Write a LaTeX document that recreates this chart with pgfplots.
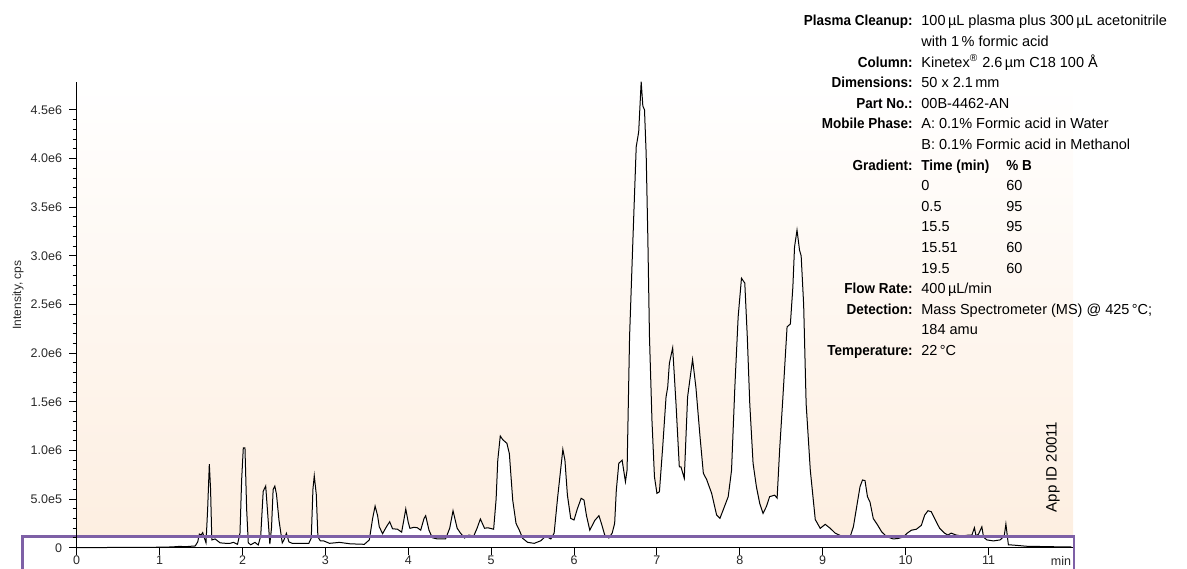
\documentclass[border=0pt]{standalone}
\usepackage{pgfplots}
\pgfplotsset{compat=1.18}
\usepackage{pgfplotstable}
\usepackage{fontspec}
\setmainfont{Liberation Sans}
\newfontfamily\labfont{Liberation Sans}[FakeStretch=0.93]
\definecolor{peach}{RGB}{253,238,224}
\definecolor{boxpurple}{RGB}{126,96,166}
\definecolor{ticktext}{RGB}{40,40,40}

\pgfplotstableread{
t I
0.00 0.002
0.30 0.002
0.60 0.003
0.90 0.004
1.05 0.006
1.15 0.008
1.25 0.014
1.30 0.010
1.38 0.015
1.43 0.018
1.46 0.06
1.48 0.14
1.50 0.13
1.52 0.155
1.54 0.10
1.56 0.05
1.58 0.40
1.60 0.86
1.615 0.60
1.63 0.08
1.67 0.09
1.73 0.05
1.80 0.045
1.85 0.045
1.89 0.055
1.94 0.035
1.97 0.15
1.99 0.70
2.01 1.025
2.03 1.025
2.05 0.40
2.07 0.05
2.10 0.03
2.15 0.055
2.19 0.028
2.22 0.12
2.25 0.58
2.28 0.634
2.30 0.40
2.33 0.037
2.35 0.20
2.37 0.60
2.39 0.634
2.41 0.55
2.44 0.285
2.48 0.05
2.50 0.08
2.53 0.148
2.56 0.06
2.60 0.045
2.70 0.045
2.80 0.045
2.83 0.10
2.85 0.60
2.866 0.74
2.89 0.55
2.91 0.11
2.94 0.07
2.98 0.07
3.05 0.045
3.17 0.055
3.30 0.04
3.47 0.035
3.53 0.08
3.57 0.30
3.60 0.428
3.63 0.33
3.65 0.216
3.69 0.144
3.74 0.22
3.776 0.267
3.81 0.195
3.87 0.19
3.92 0.16
3.95 0.30
3.97 0.398
4.00 0.26
4.02 0.199
4.07 0.21
4.11 0.205
4.15 0.18
4.19 0.30
4.21 0.329
4.25 0.18
4.29 0.103
4.35 0.09
4.45 0.09
4.50 0.20
4.54 0.38
4.59 0.20
4.63 0.15
4.68 0.10
4.73 0.13
4.79 0.12
4.83 0.20
4.87 0.295
4.92 0.20
4.96 0.205
5.03 0.19
5.06 0.50
5.08 0.90
5.11 1.148
5.14 1.11
5.19 1.073
5.22 0.965
5.26 0.49
5.30 0.25
5.34 0.18
5.38 0.097
5.44 0.055
5.52 0.045
5.60 0.072
5.66 0.12
5.72 0.09
5.76 0.15
5.80 0.50
5.865 1.011
5.89 0.90
5.92 0.54
5.96 0.302
6.00 0.285
6.04 0.40
6.086 0.508
6.12 0.49
6.15 0.33
6.19 0.18
6.25 0.28
6.30 0.329
6.33 0.25
6.37 0.13
6.42 0.10
6.46 0.15
6.49 0.25
6.51 0.59
6.54 0.867
6.58 0.90
6.62 0.678
6.64 0.80
6.67 2.17
6.71 3.16
6.75 4.12
6.78 4.275
6.81 4.79
6.83 4.54
6.85 4.50
6.87 4.05
6.89 3.2
6.91 2.17
6.94 1.31
6.97 0.73
7.00 0.559
7.03 0.575
7.07 1.04
7.11 1.55
7.13 1.65
7.15 1.895
7.19 2.055
7.23 1.48
7.27 0.832
7.29 0.83
7.33 0.713
7.37 1.55
7.43 1.936
7.47 1.65
7.52 1.14
7.56 0.765
7.60 0.70
7.66 0.559
7.72 0.336
7.76 0.302
7.80 0.39
7.86 0.525
7.90 0.795
7.94 1.65
7.98 2.374
8.02 2.77
8.06 2.72
8.09 2.17
8.12 1.48
8.16 0.867
8.20 0.627
8.24 0.456
8.28 0.353
8.32 0.422
8.36 0.525
8.42 0.54
8.45 0.51
8.48 1.0
8.52 1.55
8.57 2.27
8.61 2.30
8.64 2.68
8.66 3.09
8.69 3.265
8.72 3.06
8.74 3.0
8.77 2.5
8.80 1.48
8.85 0.80
8.91 0.29
8.97 0.199
9.03 0.24
9.09 0.20
9.15 0.15
9.25 0.11
9.33 0.11
9.37 0.215
9.41 0.421
9.45 0.627
9.48 0.696
9.51 0.69
9.54 0.524
9.57 0.47
9.61 0.30
9.66 0.236
9.71 0.165
9.77 0.115
9.85 0.09
9.91 0.095
9.97 0.11
10.02 0.15
10.07 0.18
10.13 0.19
10.19 0.23
10.23 0.335
10.27 0.38
10.31 0.37
10.35 0.30
10.41 0.20
10.47 0.15
10.51 0.13
10.55 0.15
10.61 0.13
10.68 0.12
10.76 0.13
10.80 0.13
10.83 0.205
10.85 0.12
10.88 0.14
10.92 0.215
10.94 0.11
10.98 0.08
11.06 0.07
11.14 0.08
11.19 0.12
11.21 0.244
11.23 0.10
11.24 0.03
11.30 0.027
11.46 0.015
11.78 0.010
12.00 0.008
}\chrom

\begin{document}
\begin{tikzpicture}
\begin{axis}[
  at={(0,0)}, anchor=south west,
  scale only axis, width=498.15bp, height=233bp,
  xmin=0, xmax=12.02, ymin=0, ymax=4.79,
  axis x line*=bottom, axis y line*=left,
  axis on top, clip=false,
  axis background/.style={shade, top color=white, bottom color=peach},
  axis line style={black, line width=0.5bp},
  tick style={black, line width=0.5bp},
  tick align=outside,
  major tick length=3.85bp, minor tick length=2bp,
  xtick={0,1,...,11}, xticklabels={0,1,2,3,4,5,6,7,8,9,10,11},
  ytick={0,0.5,1,1.5,2,2.5,3,3.5,4,4.5},
  yticklabels={0,5.0e5,1.0e6,1.5e6,2.0e6,2.5e6,3.0e6,3.5e6,4.0e6,4.5e6},
  minor y tick num=4,
  ticklabel style={font=\fontsize{6.25bp}{7bp}\selectfont, text=ticktext},
  xticklabel style={yshift=3.5bp},
]
\fill[white] (axis cs:-0.651,-0.5) rectangle (axis cs:12.03,0.113);
\addplot[draw=none, fill=white] table[x=t,y=I]{\chrom} \closedcycle;
\addplot[black, line width=0.5bp] table[x=t,y=I]{\chrom};
\draw[boxpurple, line width=1.25bp] (axis cs:-0.651,-0.5) -- (axis cs:-0.651,0.113) -- (axis cs:12.03,0.113) -- (axis cs:12.03,-0.5);
\node[anchor=north east, inner sep=0, font=\fontsize{6.25bp}{7bp}\selectfont, text=ticktext] at ([yshift=-4bp]axis cs:12.0,0) {min};
\end{axis}
\begin{scope}[shift={(-38.35bp,273.85bp)}, x=0.5bp, y=-0.5bp]
\node[rotate=90, inner sep=0, font=\fontsize{6bp}{7bp}\selectfont, text=ticktext] at (18,295) {Intensity, cps};
\node[rotate=90, inner sep=0, font=\fontsize{7.5bp}{8bp}\selectfont] at (1053,467) {App ID 20011};
\begin{scope}[every node/.style={inner sep=0, font=\fontsize{7.25bp}{8bp}\selectfont}]
\def\lab#1#2{\node[anchor=base east] at (913,#1) {\labfont\bfseries #2};}
\def\val#1#2#3{\node[anchor=base west] at (#1,#2) {#3};}
\lab{25.9}{Plasma Cleanup:}
\val{921}{25.9}{100\,µL plasma plus 300\,µL acetonitrile}
\val{921}{46.5}{with 1\,\% formic acid}
\lab{67.1}{Column:}
\val{921}{67.1}{Kinetex\textsuperscript{®} 2.6\,µm C18 100 Å}
\lab{87.7}{Dimensions:}
\val{921}{87.7}{50 x 2.1\,mm}
\lab{108.3}{Part No.:}
\val{921}{108.3}{00B-4462-AN}
\lab{128.9}{Mobile Phase:}
\val{921}{128.9}{A: 0.1\% Formic acid in Water}
\val{921}{149.5}{B: 0.1\% Formic acid in Methanol}
\lab{170.1}{Gradient:}
\val{921}{170.1}{\labfont\bfseries Time (min)}
\val{1006}{170.1}{\labfont\bfseries \% B}
\val{921}{190.7}{0}\val{1006}{190.7}{60}
\val{921}{211.3}{0.5}\val{1006}{211.3}{95}
\val{921}{231.9}{15.5}\val{1006}{231.9}{95}
\val{921}{252.5}{15.51}\val{1006}{252.5}{60}
\val{921}{273.1}{19.5}\val{1006}{273.1}{60}
\lab{293.7}{Flow Rate:}
\val{921}{293.7}{400\,µL/min}
\lab{314.3}{Detection:}
\val{921}{314.3}{Mass Spectrometer (MS) @ 425\,°C;}
\val{921}{334.9}{184 amu}
\lab{355.5}{Temperature:}
\val{921}{355.5}{22\,°C}
\end{scope}
\pgfresetboundingbox
\path[use as bounding box] (0,0) rectangle (1187,569);
\end{scope}
\end{tikzpicture}
\end{document}
